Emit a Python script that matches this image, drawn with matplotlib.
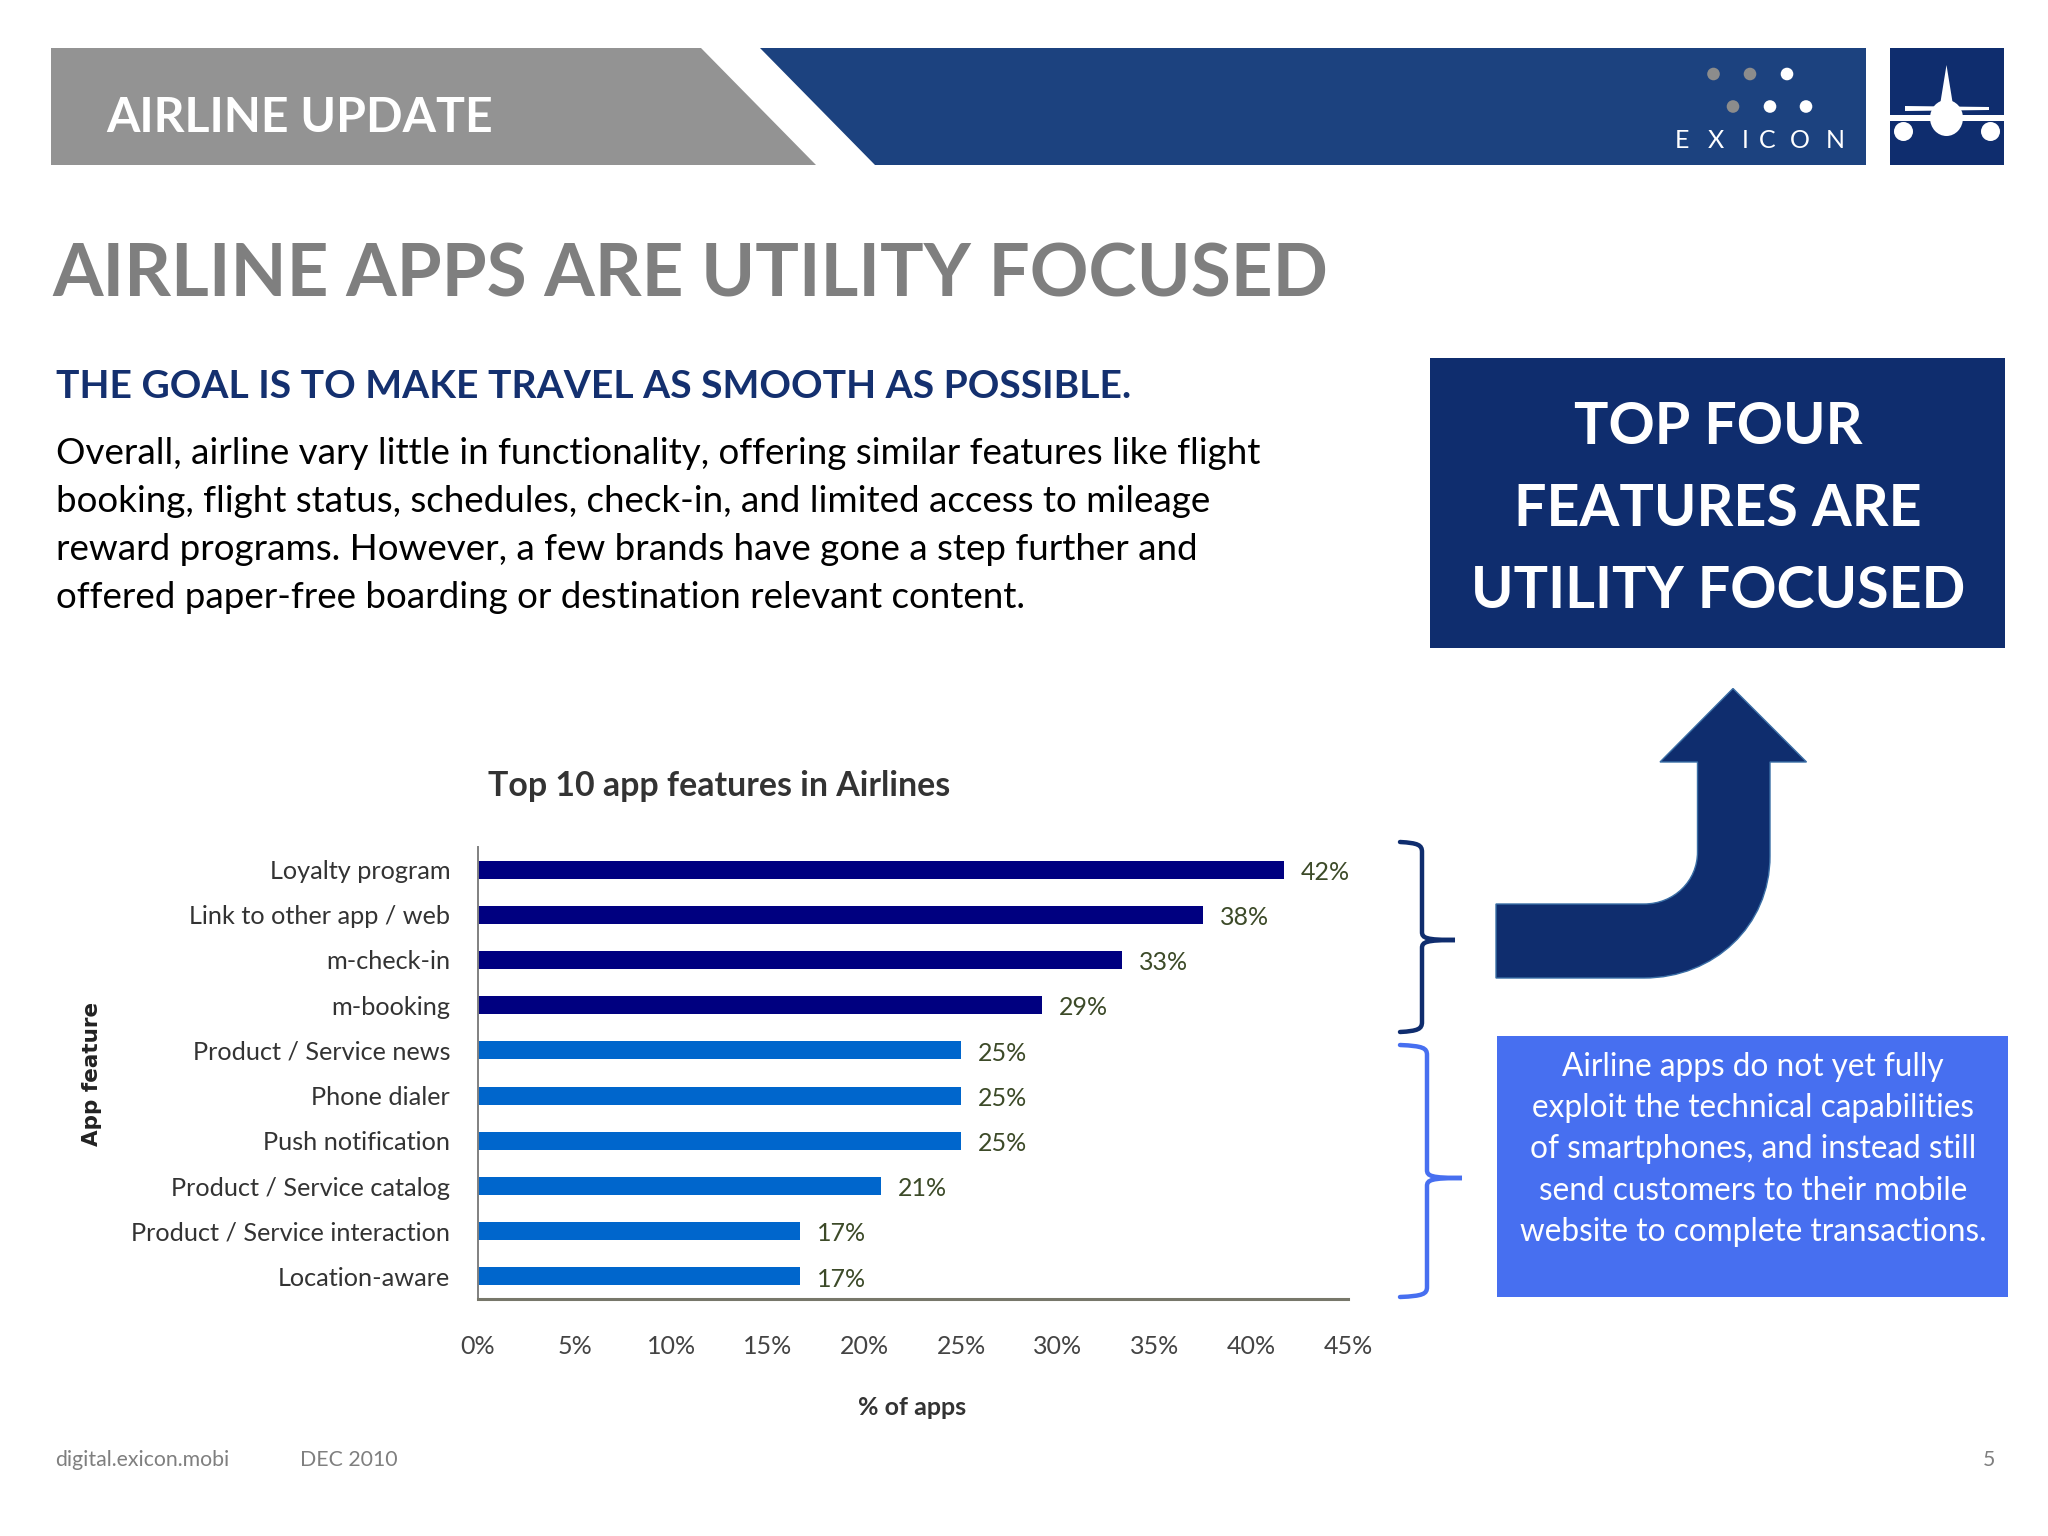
import matplotlib
matplotlib.use("Agg")
import matplotlib.pyplot as plt
from matplotlib.patches import Polygon, Rectangle, Circle, Ellipse, PathPatch
from matplotlib.path import Path

# chart data
features = ["Loyalty program", "Link to other app / web", "m-check-in", "m-booking",
            "Product / Service news", "Phone dialer", "Push notification",
            "Product / Service catalog", "Product / Service interaction", "Location-aware"]
pct_apps = [41.67, 37.5, 33.33, 29.17, 25, 25, 25, 20.83, 16.67, 16.67]
value_labels = ["42%", "38%", "33%", "29%", "25%", "25%", "25%", "21%", "17%", "17%"]
bar_colors = ["#000080"] * 4 + ["#0066cc"] * 6
x_ticks = [0, 5, 10, 15, 20, 25, 30, 35, 40, 45]
x_ticklabels = ["0%", "5%", "10%", "15%", "20%", "25%", "30%", "35%", "40%", "45%"]

body_lines = ["Overall, airline vary little in functionality, offering similar features like flight",
              "booking, flight status, schedules, check-in, and limited access to mileage",
              "reward programs. However, a few brands have gone a step further and",
              "offered paper-free boarding or destination relevant content."]
top_box_lines = ["TOP FOUR", "FEATURES ARE", "UTILITY FOCUSED"]
blue_box_lines = ["Airline apps do not yet fully", "exploit the technical capabilities",
                  "of smartphones, and instead still", "send customers to their mobile",
                  "website to complete transactions."]

NAVY = "#0f2d6e"
ROYAL = "#476ff0"
GRAY = "#7f7f7f"
W, H = 2048, 1536

plt.rcParams["font.family"] = ["Lato", "DejaVu Sans"]
fig = plt.figure(figsize=(W / 100, H / 100), dpi=100, facecolor="white")

# slide layer works in pixels of the page
ov = fig.add_axes([0, 0, 1, 1])
ov.set_xlim(0, W)
ov.set_ylim(H, 0)
ov.axis("off")

# header band
ov.add_patch(Polygon([(51, 48), (701, 48), (816, 165), (51, 165)], fc="#939393", ec="none"))
ov.add_patch(Polygon([(760, 48), (1866, 48), (1866, 165), (875, 165)], fc="#1c427f", ec="none"))
ov.text(106, 118, "AIRLINE UPDATE", color="white", fontsize=34.7, fontweight="bold", va="center")

# exicon logo
dots = [(1713.5, 74, "#8c8c8c"), (1750, 74, "#8c8c8c"), (1787, 74, "white"),
        (1733, 106.5, "#8c8c8c"), (1770, 106.5, "white"), (1806, 106.5, "white")]
for dx, dy, dc in dots:
    ov.add_patch(Circle((dx, dy), 6.3, fc=dc, ec="none"))
for letter, lx in zip("EXICON", [1682, 1715.5, 1745, 1767, 1800, 1835]):
    ov.text(lx, 141, letter, color="white", fontsize=18, ha="center", va="center")

# plane tile
ov.add_patch(Rectangle((1890, 48), 114, 117, fc=NAVY, ec="none"))
ov.add_patch(Polygon([(1946.5, 65), (1940, 105), (1953, 105)], fc="white", ec="none"))
ov.add_patch(Polygon([(1905, 106), (1989, 107), (1989, 110), (1905, 111)], fc="white", ec="none"))
ov.add_patch(Polygon([(1890, 115), (2004, 115), (2004, 121), (1890, 121)], fc="white", ec="none"))
ov.add_patch(Ellipse((1946.5, 118), 33, 36, fc="white", ec="none"))
ov.add_patch(Circle((1903.5, 131.5), 9.5, fc="white", ec="none"))
ov.add_patch(Circle((1990.5, 131.5), 9.5, fc="white", ec="none"))

# headings and body
ov.text(52, 276, "AIRLINE APPS ARE UTILITY FOCUSED", color=GRAY, fontsize=52.4,
        fontweight="bold", va="center")
ov.text(56, 386, "THE GOAL IS TO MAKE TRAVEL AS SMOOTH AS POSSIBLE.", color="#14306f",
        fontsize=28.1, fontweight="bold", va="center")
for line, ly in zip(body_lines, [454, 502, 549, 597]):
    ov.text(56, ly, line, color="black", fontsize=26.5, va="center")

# top right box
ov.add_patch(Rectangle((1430, 358), 575, 290, fc=NAVY, ec="none"))
for line, ly in zip(top_box_lines, [427, 509, 592]):
    ov.text(1718, ly, line, color="white", fontsize=41.3, fontweight="bold", ha="center", va="center")

# bent arrow
arrow_verts = [(1496, 904), (1644, 904), (1674, 904), (1697.5, 881), (1697.5, 852),
               (1697.5, 762), (1660, 762), (1733, 688.5), (1806.5, 762), (1770, 762),
               (1770, 856), (1770, 926), (1714, 978), (1644, 978), (1496, 978), (1496, 904)]
arrow_codes = [Path.MOVETO, Path.LINETO, Path.CURVE4, Path.CURVE4, Path.CURVE4,
               Path.LINETO, Path.LINETO, Path.LINETO, Path.LINETO, Path.LINETO,
               Path.LINETO, Path.CURVE4, Path.CURVE4, Path.CURVE4, Path.LINETO, Path.CLOSEPOLY]
ov.add_patch(PathPatch(Path(arrow_verts, arrow_codes), fc=NAVY, ec="#3a6ea5", lw=1))


def draw_brace(x0, x1, tip, top, mid, bottom, color):
    verts = [(x0, top), (x1 - 4, top + 1), (x1, top + 3), (x1, top + 10), (x1, mid - 8),
             (x1, mid - 2), (x1 + 4, mid), (tip, mid),
             (x1 + 4, mid), (x1, mid + 2), (x1, mid + 8), (x1, bottom - 10),
             (x1, bottom - 3), (x1 - 4, bottom - 1), (x0, bottom)]
    codes = [Path.MOVETO, Path.CURVE4, Path.CURVE4, Path.CURVE4, Path.LINETO,
             Path.CURVE4, Path.CURVE4, Path.CURVE4,
             Path.CURVE4, Path.CURVE4, Path.CURVE4, Path.LINETO,
             Path.CURVE4, Path.CURVE4, Path.CURVE4]
    ov.add_patch(PathPatch(Path(verts, codes), fc="none", ec=color, lw=3.2, capstyle="round"))


draw_brace(1400, 1422, 1455, 842, 940, 1032, NAVY)
draw_brace(1400, 1427, 1462, 1045, 1178, 1297, ROYAL)

# blue note box
ov.add_patch(Rectangle((1497, 1036), 511, 261, fc=ROYAL, ec="none"))
for line, ly in zip(blue_box_lines, [1067, 1108, 1149, 1191, 1232]):
    ov.text(1753, ly, line, color="white", fontsize=22.7, ha="center", va="center")

# footer
ov.text(55, 1460, "digital.exicon.mobi", color=GRAY, fontsize=15.3, va="center")
ov.text(300, 1460, "DEC 2010", color=GRAY, fontsize=15.3, va="center")
ov.text(1995, 1460, "5", color=GRAY, fontsize=15.3, ha="right", va="center")

# bar chart, axes placed over the slide
ax = fig.add_axes([478 / W, 1 - 1299 / H, 870 / W, 452 / H])
ax.patch.set_alpha(0)
ypos = list(range(len(features)))
ax.barh(ypos, pct_apps, height=0.4, color=bar_colors)
ax.set_xlim(0, 45)
ax.set_ylim(len(features) - 0.5, -0.5)
ax.set_yticks(ypos)
ax.set_yticklabels(features, fontsize=18.2, color="#333333")
ax.set_xticks(x_ticks)
ax.set_xticklabels(x_ticklabels, fontsize=18, color="#444444")
ax.tick_params(axis="y", length=0, pad=20)
ax.tick_params(axis="x", length=0, pad=26)
for val, lab, y in zip(pct_apps, value_labels, ypos):
    ax.annotate(lab, (val, y), xytext=(12, -2), textcoords="offset points", fontsize=18,
                color="#3c4a28", va="center")
for side in ["top", "right"]:
    ax.spines[side].set_visible(False)
ax.spines["left"].set_color("#808080")
ax.spines["left"].set_linewidth(1.4)
ax.spines["bottom"].set_color("#77776a")
ax.spines["bottom"].set_linewidth(2.2)
ax.set_title("Top 10 app features in Airlines", fontsize=24.4, fontweight="bold", color="#333333",
             x=(719 - 478) / 870, pad=37)
ax.set_xlabel("% of apps", fontsize=18, fontweight="bold", color="#333333")
ax.xaxis.set_label_coords((912 - 478) / 870, -(1396 - 1299) / 452, transform=ax.transAxes)
ax.set_ylabel("App feature", fontsize=15.5, fontweight="bold", color="#222222",
              family=["DejaVu Sans"])
ax.yaxis.set_label_coords((102 - 478) / 870, 1 - (1074 - 847) / 452, transform=ax.transAxes)

fig.savefig("out.png", dpi=100)
